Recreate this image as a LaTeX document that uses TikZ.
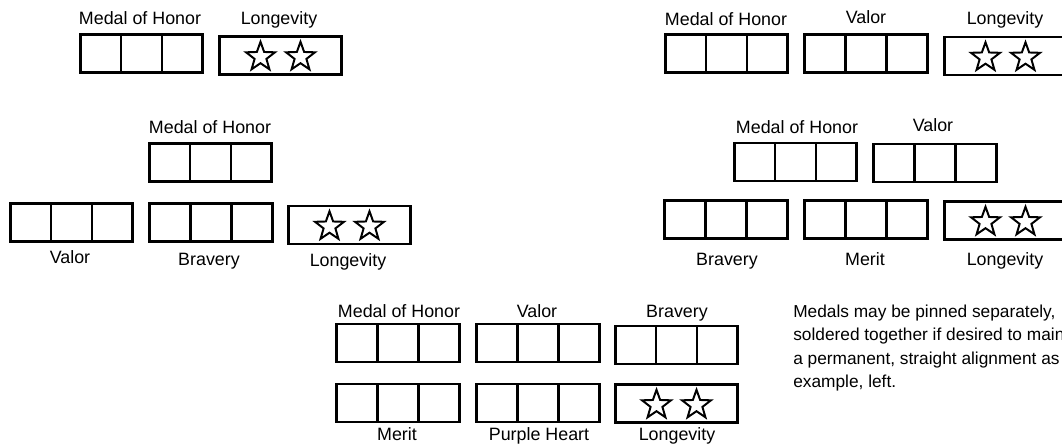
\documentclass[tikz,border=0pt]{standalone}
\usepackage{fontspec}
\setmainfont{Liberation Sans}
\usetikzlibrary{positioning,shapes.geometric,calc}

\begin{document}
\begin{tikzpicture}[
      x=0.025cm,y=-0.025cm,
      bar/.style={draw=black,line width=1.9pt,minimum width=3.06cm,
        minimum height=0.95cm,inner sep=0pt},
      ribbon/.style={bar,
        path picture={
          \draw[line width=1.9pt]
            ($(path picture bounding box.north west)!1/3!(path picture bounding box.north east)$)
            -- ($(path picture bounding box.south west)!1/3!(path picture bounding box.south east)$);
          \draw[line width=1.9pt]
            ($(path picture bounding box.north west)!2/3!(path picture bounding box.north east)$)
            -- ($(path picture bounding box.south west)!2/3!(path picture bounding box.south east)$);
        }},
      longev/.style={bar,
        path picture={
          \node[starmark] at ($(path picture bounding box.center)+(-20,1.5)$) {};
          \node[starmark] at ($(path picture bounding box.center)+(20,1.5)$) {};
        }},
      starmark/.style={star,star points=5,star point ratio=2.45,draw=black,
        line width=1.4pt,line join=miter,minimum size=0.76cm,inner sep=0pt},
      tag/.style={font=\fontsize{12.7}{15}\selectfont,inner sep=0pt,
        text height=9.1pt,text depth=0pt},
      note/.style={font=\fontsize{12.3}{16.7}\selectfont,align=left,
        inner sep=0pt,anchor=north west}
    ]
    \path[use as bounding box,clip] (0,0) rectangle (1062,444);

    % top left
    \node[ribbon] (AM) at (141.5,53.5) {};
    \node[longev] (AL) at (280.5,55.5) {};
    \node[tag] (AMt) at (140,18) {Medal of Honor};
    \node[tag] (ALt) at (279,18) {Longevity};

    % top right
    \node[ribbon] (BM) at (726.5,53.5) {};
    \node[ribbon] (BV) at (866,53.5) {};
    \node[longev] (BL) at (1005.5,56) {};
    \node[tag] (BMt) at (726,19) {Medal of Honor};
    \node[tag] (BVt) at (866,17) {Valor};
    \node[tag] (BLt) at (1005,18) {Longevity};

    % middle left
    \node[ribbon] (CM) at (210.5,162.5) {};
    \node[ribbon] (CV) at (71.5,222.5) {};
    \node[ribbon] (CB) at (211,222.5) {};
    \node[longev] (CL) at (349.5,225) {};
    \node[tag] (CMt) at (210,127) {Medal of Honor};
    \node[tag] (CVt) at (70,257) {Valor};
    \node[tag] (CBt) at (209,259) {Bravery};
    \node[tag] (CLt) at (348,260) {Longevity};

    % middle right
    \node[ribbon] (DM) at (795.5,162) {};
    \node[ribbon] (DV) at (935,163) {};
    \node[ribbon] (DB) at (726,219.5) {};
    \node[ribbon] (DR) at (866,219.5) {};
    \node[longev] (DL) at (1005.5,220.5) {};
    \node[tag] (DMt) at (797,127) {Medal of Honor};
    \node[tag] (DVt) at (933,125) {Valor};
    \node[tag] (DBt) at (727,259) {Bravery};
    \node[tag] (DRt) at (865,259) {Merit};
    \node[tag] (DLt) at (1005,259) {Longevity};

    % bottom
    \node[ribbon] (EM) at (398,343) {};
    \node[ribbon] (EV) at (538,343) {};
    \node[ribbon] (EB) at (676.5,345) {};
    \node[ribbon] (ER) at (398,403) {};
    \node[ribbon] (EP) at (538,403) {};
    \node[longev] (EL) at (676.5,403.5) {};
    \node[tag] (EMt) at (399,311) {Medal of Honor};
    \node[tag] (EVt) at (537,311) {Valor};
    \node[tag] (EBt) at (677,311) {Bravery};
    \node[tag] (ERt) at (397,434) {Merit};
    \node[tag] (EPt) at (539,434) {Purple Heart};
    \node[tag] (ELt) at (677,434) {Longevity};

    \node[note] (N) at (793,304.5)
      {Medals may be pinned separately,\\
       soldered together if desired to main\\
       a permanent, straight alignment as\\
       example, left.};
  \end{tikzpicture}
\end{document}
